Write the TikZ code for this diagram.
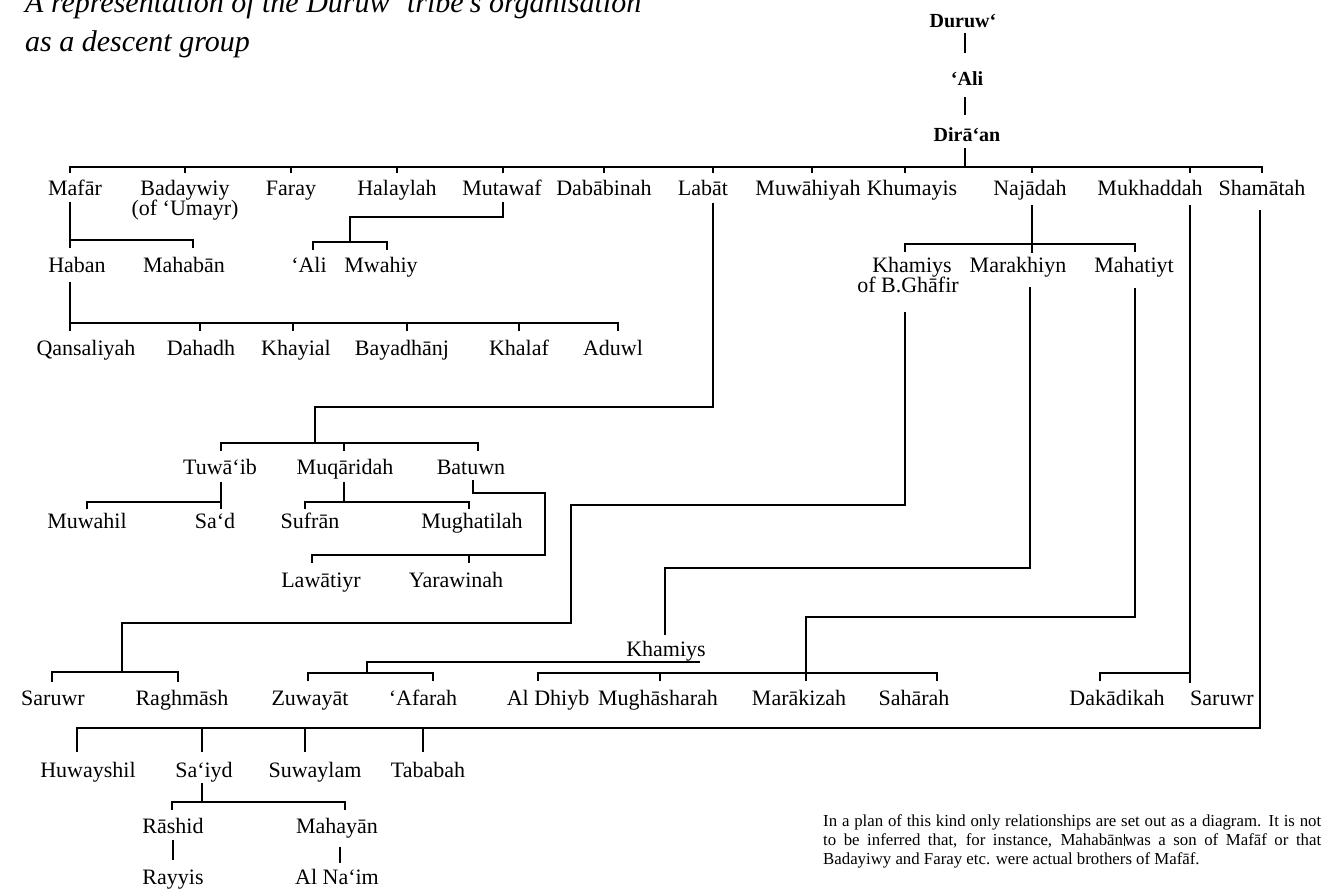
\documentclass[tikz,border=0pt]{standalone}
\usepackage{fontspec}
\setmainfont{Liberation Serif}
\begin{document}
\begin{tikzpicture}[x=1pt,y=-1pt,
  nm/.style={font=\fontsize{22}{26}\selectfont, inner sep=0pt, anchor=base},
  hd/.style={font=\fontsize{20}{24}\selectfont\bfseries, inner sep=0pt, anchor=base},
  ttl/.style={font=\fontsize{30}{36}\selectfont\itshape, inner sep=0pt, anchor=base west},
  nt/.style={font=\fontsize{16.8}{19}\selectfont, inner sep=0pt, anchor=base west},
  ln/.style={line width=1.5pt}]
\useasboundingbox (0,0) rectangle (1336,891);

% title
\node[ttl] (t1) at (25,13) {A representation of the Duruw‘ tribe’s organisation};
\node[ttl] (t2) at (25,52) {as a descent group};

% heading
\node[hd] (duruw) at (963,28) {Duruw‘};
\node[hd] (ali0) at (967,85) {‘Ali};
\node[hd] (diran) at (967,141) {Dirā‘an};

% row 1
\node[nm] (mafar) at (75,195) {Mafār};
\node[nm] (badaywiy) at (185,195) {Badaywiy};
\node[nm] (umayr) at (185,215) {(of ‘Umayr)};
\node[nm] (faray) at (291,195) {Faray};
\node[nm] (halaylah) at (397,195) {Halaylah};
\node[nm] (mutawaf) at (502,195) {Mutawaf};
\node[nm] (dababinah) at (604,195) {Dabābinah};
\node[nm] (labat) at (703,195) {Labāt};
\node[nm] (muwahiyah) at (808,195) {Muwāhiyah};
\node[nm] (khumayis) at (912,195) {Khumayis};
\node[nm] (najadah) at (1030,195) {Najādah};
\node[nm] (mukhaddah) at (1150,195) {Mukhaddah};
\node[nm] (shamatah) at (1262,195) {Shamātah};

% row 2
\node[nm] (haban) at (77,272) {Haban};
\node[nm] (mahaban) at (184,272) {Mahabān};
\node[nm] (ali1) at (309,272) {‘Ali};
\node[nm] (mwahiy) at (381,272) {Mwahiy};
\node[nm] (khamiysbg) at (912,272) {Khamiys};
\node[nm] (ofbg) at (908,292) {of B.Ghāfir};
\node[nm] (marakhiyn) at (1018,272) {Marakhiyn};
\node[nm] (mahatiyt) at (1134,272) {Mahatiyt};

% row 3
\node[nm] (qansaliyah) at (86,355) {Qansaliyah};
\node[nm] (dahadh) at (201,355) {Dahadh};
\node[nm] (khayial) at (296,355) {Khayial};
\node[nm] (bayadhanj) at (402,355) {Bayadhānj};
\node[nm] (khalaf) at (519,355) {Khalaf};
\node[nm] (aduwl) at (613,355) {Aduwl};

% row 4
\node[nm] (tuwaib) at (220,474) {Tuwā‘ib};
\node[nm] (muqaridah) at (345,474) {Muqāridah};
\node[nm] (batuwn) at (471,474) {Batuwn};

% row 5
\node[nm] (muwahil) at (87,528) {Muwahil};
\node[nm] (sad) at (215,528) {Sa‘d};
\node[nm] (sufran) at (310,528) {Sufrān};
\node[nm] (mughatilah) at (472,528) {Mughatilah};

% row 6
\node[nm] (lawatiyr) at (321,587) {Lawātiyr};
\node[nm] (yarawinah) at (456,587) {Yarawinah};

% Khamiys
\node[nm] (khamiys) at (666,656) {Khamiys};

% row 7
\node[nm] (saruwra) at (53,705) {Saruwr};
\node[nm] (raghmash) at (182,705) {Raghmāsh};
\node[nm] (zuwayat) at (310,705) {Zuwayāt};
\node[nm] (afarah) at (423,705) {‘Afarah};
\node[nm] (aldhiyb) at (548,705) {Al Dhiyb};
\node[nm] (mughasharah) at (658,705) {Mughāsharah};
\node[nm] (marakizah) at (799,705) {Marākizah};
\node[nm] (saharah) at (914,705) {Sahārah};
\node[nm] (dakadikah) at (1117,705) {Dakādikah};
\node[nm] (saruwrb) at (1222,705) {Saruwr};

% row 8
\node[nm] (huwayshil) at (88,777) {Huwayshil};
\node[nm] (saiyd) at (204,777) {Sa‘iyd};
\node[nm] (suwaylam) at (315,777) {Suwaylam};
\node[nm] (tababah) at (428,777) {Tababah};

% row 9, 10
\node[nm] (rashid) at (173,833) {Rāshid};
\node[nm] (mahayan) at (337,833) {Mahayān};
\node[nm] (rayyis) at (173,884) {Rayyis};
\node[nm] (alnaim) at (337,884) {Al Na‘im};

% note
\node[nt] (n1) at (823,826) {\makebox[498pt][s]{In a plan of this kind only relationships are set out as a diagram. It is not}};
\node[nt] (n2) at (823,845) {\makebox[498pt][s]{to be inferred that, for instance, Mahabān\kern0.5pt\rule[-1pt]{0.7pt}{12pt}\kern0.5pt was a son of Mafāf or that}};
\node[nt] (n3) at (823,864) {Badayiwy and Faray etc. were actual brothers of Mafāf.};

% ---------- connectors ----------
\draw[ln] (965,33) -- (965,53);
\draw[ln] (965,97) -- (965,115);
\draw[ln] (965,148) -- (965,167);
\draw[ln] (70,173) -- (70,167) -- (1262,167) -- (1262,173);
\foreach \x in {185,291,397,503,604,713,812,905,1032,1190}
  \draw[ln] (\x,167) -- (\x,173);

% Mafar
\draw[ln] (70,202) -- (70,248);
\draw[ln] (70,240) -- (193,240) -- (193,248);
% Mutawaf
\draw[ln] (503,202) -- (503,217) -- (350,217) -- (350,242);
\draw[ln] (313,250) -- (313,242) -- (387,242) -- (387,250);
% Haban
\draw[ln] (70,282) -- (70,331);
\draw[ln] (70,323) -- (618,323) -- (618,331);
\foreach \x in {200,293,407,519}
  \draw[ln] (\x,323) -- (\x,331);
% Labat
\draw[ln] (713,203) -- (713,407) -- (315,407) -- (315,443);
\draw[ln] (221,451) -- (221,443) -- (478,443) -- (478,451);
\draw[ln] (344,443) -- (344,451);
% Tuwaib
\draw[ln] (221,482) -- (221,502);
\draw[ln] (87,509) -- (87,502) -- (221,502) -- (221,509);
% Muqaridah
\draw[ln] (344,482) -- (344,502);
\draw[ln] (305,509) -- (305,502) -- (469,502) -- (469,509);
% Batuwn
\draw[ln] (473,480) -- (473,493) -- (545,493) -- (545,555) -- (312,555) -- (312,563);
\draw[ln] (469,555) -- (469,563);
% Najadah
\draw[ln] (1032,205) -- (1032,253);
\draw[ln] (905,252) -- (905,244) -- (1135,244) -- (1135,252);
% Khamiys of B.Ghafir
\draw[ln] (905,312) -- (905,505) -- (571,505) -- (571,623) -- (122,623) -- (122,672);
\draw[ln] (52,682) -- (52,672) -- (178,672) -- (178,682);
% Marakhiyn
\draw[ln] (1030,287) -- (1030,568) -- (665,568) -- (665,635);
% Khamiys
\draw[ln] (700,662) -- (367,662) -- (367,673);
\draw[ln] (308,681) -- (308,673) -- (433,673) -- (433,681);
% Mahatiyt
\draw[ln] (1135,288) -- (1135,617) -- (806,617) -- (806,681);
\draw[ln] (538,681) -- (538,673) -- (937,673) -- (937,681);
\draw[ln] (660,673) -- (660,681);
% Mukhaddah
\draw[ln] (1190,205) -- (1190,683);
\draw[ln] (1100,681) -- (1100,673) -- (1190,673);
% Shamatah
\draw[ln] (1260,210) -- (1260,728) -- (77,728) -- (77,752);
\foreach \x in {202,305,423}
  \draw[ln] (\x,728) -- (\x,752);
% Sa'iyd
\draw[ln] (202,783) -- (202,802);
\draw[ln] (172,810) -- (172,802) -- (345,802) -- (345,810);
\draw[ln] (173,840) -- (173,860);
\draw[ln] (340,847) -- (340,863);
\end{tikzpicture}
\end{document}
